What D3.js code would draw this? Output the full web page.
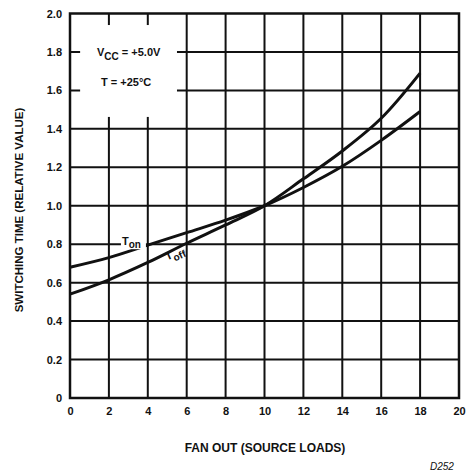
<!DOCTYPE html>
<html>
<head>
<meta charset="utf-8">
<script src="https://cdn.jsdelivr.net/npm/d3@7"></script>
<style>
  body { margin: 0; background: #fff; }
  svg { display: block; font-family: "Liberation Sans", Arial, sans-serif; }
  .tick text { font-size: 11px; font-weight: bold; fill: #111; }
</style>
</head>
<body>
<svg id="chart" width="468" height="473"></svg>
<script>
var fanOut = [0, 2, 4, 6, 8, 10, 12, 14, 16, 18];
var tOn  = [0.68, 0.73, 0.795, 0.86, 0.925, 1.0, 1.095, 1.205, 1.34, 1.49];
var tOff = [0.54, 0.615, 0.705, 0.805, 0.90, 1.0, 1.14, 1.285, 1.455, 1.69];

var xTicks = [0, 2, 4, 6, 8, 10, 12, 14, 16, 18, 20];
var yTicks = [0, 0.2, 0.4, 0.6, 0.8, 1.0, 1.2, 1.4, 1.6, 1.8, 2.0];

var svg = d3.select("#chart");

var x = d3.scaleLinear().domain([0, 20]).range([70, 459]);
var y = d3.scaleLinear().domain([0, 2]).range([398, 13.5]);

// grid
var grid = svg.append("g").attr("stroke", "#111").attr("stroke-width", 2);
grid.selectAll("line.v")
  .data(xTicks.slice(1, -1))
  .enter().append("line")
  .attr("x1", function(d) { return x(d); })
  .attr("x2", function(d) { return x(d); })
  .attr("y1", y(0)).attr("y2", y(2));
grid.selectAll("line.h")
  .data(yTicks.slice(1, -1))
  .enter().append("line")
  .attr("x1", x(0)).attr("x2", x(20))
  .attr("y1", function(d) { return y(d); })
  .attr("y2", function(d) { return y(d); });

// blank area for the conditions note
svg.append("rect")
  .attr("x", x(0.52)).attr("y", y(1.94))
  .attr("width", x(5.5) - x(0.52))
  .attr("height", y(1.462) - y(1.94))
  .attr("fill", "#fff");

// frame
svg.append("rect")
  .attr("x", x(0)).attr("y", y(2))
  .attr("width", x(20) - x(0))
  .attr("height", y(0) - y(2))
  .attr("fill", "none")
  .attr("stroke", "#111")
  .attr("stroke-width", 2.5);

// axes (labels only)
var yAxis = d3.axisLeft(y)
  .tickValues(yTicks)
  .tickSize(0)
  .tickPadding(8)
  .tickFormat(function(d) { return d === 0 ? "0" : d3.format(".1f")(d); });
svg.append("g").attr("transform", "translate(" + x(0) + ",0)").call(yAxis)
  .call(function(g) { g.select(".domain").remove(); });

var xAxis = d3.axisBottom(x)
  .tickValues(xTicks)
  .tickSize(0)
  .tickPadding(9)
  .tickFormat(d3.format("d"));
svg.append("g").attr("transform", "translate(0," + y(0) + ")").call(xAxis)
  .call(function(g) { g.select(".domain").remove(); });

// curves
var line = d3.line()
  .x(function(d) { return x(d[0]); })
  .y(function(d) { return y(d[1]); })
  .curve(d3.curveCatmullRom.alpha(0.5));

[tOn, tOff].forEach(function(vals) {
  svg.append("path")
    .datum(fanOut.map(function(f, i) { return [f, vals[i]]; }))
    .attr("d", line)
    .attr("fill", "none")
    .attr("stroke", "#111")
    .attr("stroke-width", 3);
});

// curve labels
var onLabel = svg.append("g").attr("transform", "translate(" + x(2.67) + "," + (y(0.8) + 1) + ")");
onLabel.append("rect").attr("x", -1).attr("y", -8).attr("width", 25).attr("height", 12).attr("fill", "#fff");
var onText = onLabel.append("text").attr("font-size", 11).attr("font-weight", "bold").attr("fill", "#111");
onText.append("tspan").text("T");
onText.append("tspan").attr("dy", 3).attr("font-size", 10).text("on");

var offText = svg.append("text")
  .attr("transform", "translate(" + x(5.0) + "," + y(0.715) + ") rotate(-24)")
  .attr("font-size", 11).attr("font-weight", "bold").attr("fill", "#111");
offText.append("tspan").text("T");
offText.append("tspan").attr("dy", 4).attr("font-size", 10).text("off");

// conditions note
var vcc = svg.append("text").attr("x", 97).attr("y", 55.5)
  .attr("font-size", 11).attr("font-weight", "bold").attr("fill", "#111");
vcc.append("tspan").text("V");
vcc.append("tspan").attr("dy", 4).attr("font-size", 10).text("CC");
vcc.append("tspan").attr("dy", -4).text(" = +5.0V");

svg.append("text").attr("x", 101).attr("y", 86)
  .attr("font-size", 11).attr("font-weight", "bold").attr("fill", "#111")
  .text("T = +25°C");

// axis titles
svg.append("text")
  .attr("x", 265).attr("y", 452)
  .attr("text-anchor", "middle")
  .attr("font-size", 12).attr("font-weight", "bold").attr("fill", "#111")
  .text("FAN OUT (SOURCE LOADS)");

svg.append("text")
  .attr("transform", "translate(23,210) rotate(-90)")
  .attr("text-anchor", "middle")
  .attr("font-size", 11.5).attr("font-weight", "bold").attr("fill", "#111")
  .text("SWITCHING TIME (RELATIVE VALUE)");

svg.append("text")
  .attr("x", 430).attr("y", 470)
  .attr("font-size", 10).attr("font-style", "italic").attr("fill", "#111")
  .text("D252");
</script>
</body>
</html>
